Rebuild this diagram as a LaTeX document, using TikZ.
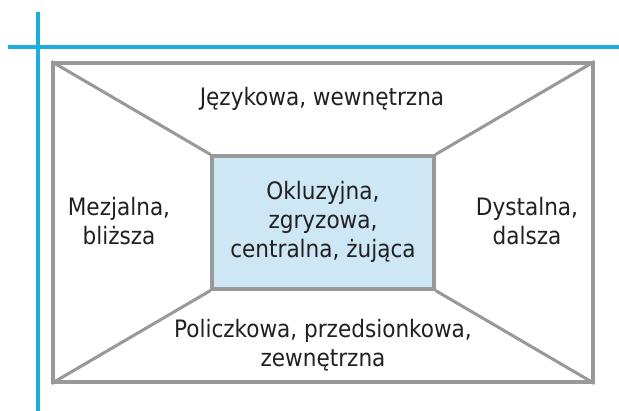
\documentclass[tikz,border=0pt]{standalone}
\usepackage{fontspec}
\setmainfont{DejaVu Sans Condensed}
\usetikzlibrary{positioning}
\definecolor{guide}{HTML}{1AAEDC}
\definecolor{frame}{HTML}{999999}
\definecolor{surf}{HTML}{CDE7F5}
\definecolor{ink}{HTML}{231F20}
\tikzset{
    wall/.style={draw=frame, line width=2.3pt},
    label/.style={align=center, text=ink, font=\fontsize{18}{21.75}\selectfont}
}

\begin{document}
\begin{tikzpicture}[x=0.75pt, y=-0.75pt]
    \useasboundingbox (0,0) rectangle (619,411);

    \coordinate (VTOP) at (38,12);
    \coordinate (VBOT) at (38,411);
    \coordinate (HL) at (8,47);
    \coordinate (HR) at (619,47);
    \draw[guide, line width=2.3pt] (VTOP) -- (VBOT);
    \draw[guide, line width=2.3pt] (HL) -- (HR);

    \node[wall, minimum width=405pt, minimum height=239.25pt, inner sep=0pt] (OUTER) at (323,222.5) {};
    \node[wall, fill=surf, minimum width=166.5pt, minimum height=99.75pt, inner sep=0pt] (INNER) at (323,222.5) {};

    \draw[wall] (OUTER.north west) -- (INNER.north west);
    \draw[wall] (OUTER.north east) -- (INNER.north east);
    \draw[wall] (OUTER.south west) -- (INNER.south west);
    \draw[wall] (OUTER.south east) -- (INNER.south east);

    \node[label] (TOP) at (322,99) {Językowa, wewnętrzna};
    \node[label] (LEFT) at (119,221) {Mezjalna,\\bliższa};
    \node[label] (RIGHT) at (527,221) {Dystalna,\\dalsza};
    \node[label] (MID) at (323,221.5) {Okluzyjna,\\zgryzowa,\\centralna, żująca};
    \node[label] (BOT) at (323,345) {Policzkowa, przedsionkowa,\\zewnętrzna};

    %\draw[help lines] (0,0) grid (619,411);
\end{tikzpicture}
\end{document}
